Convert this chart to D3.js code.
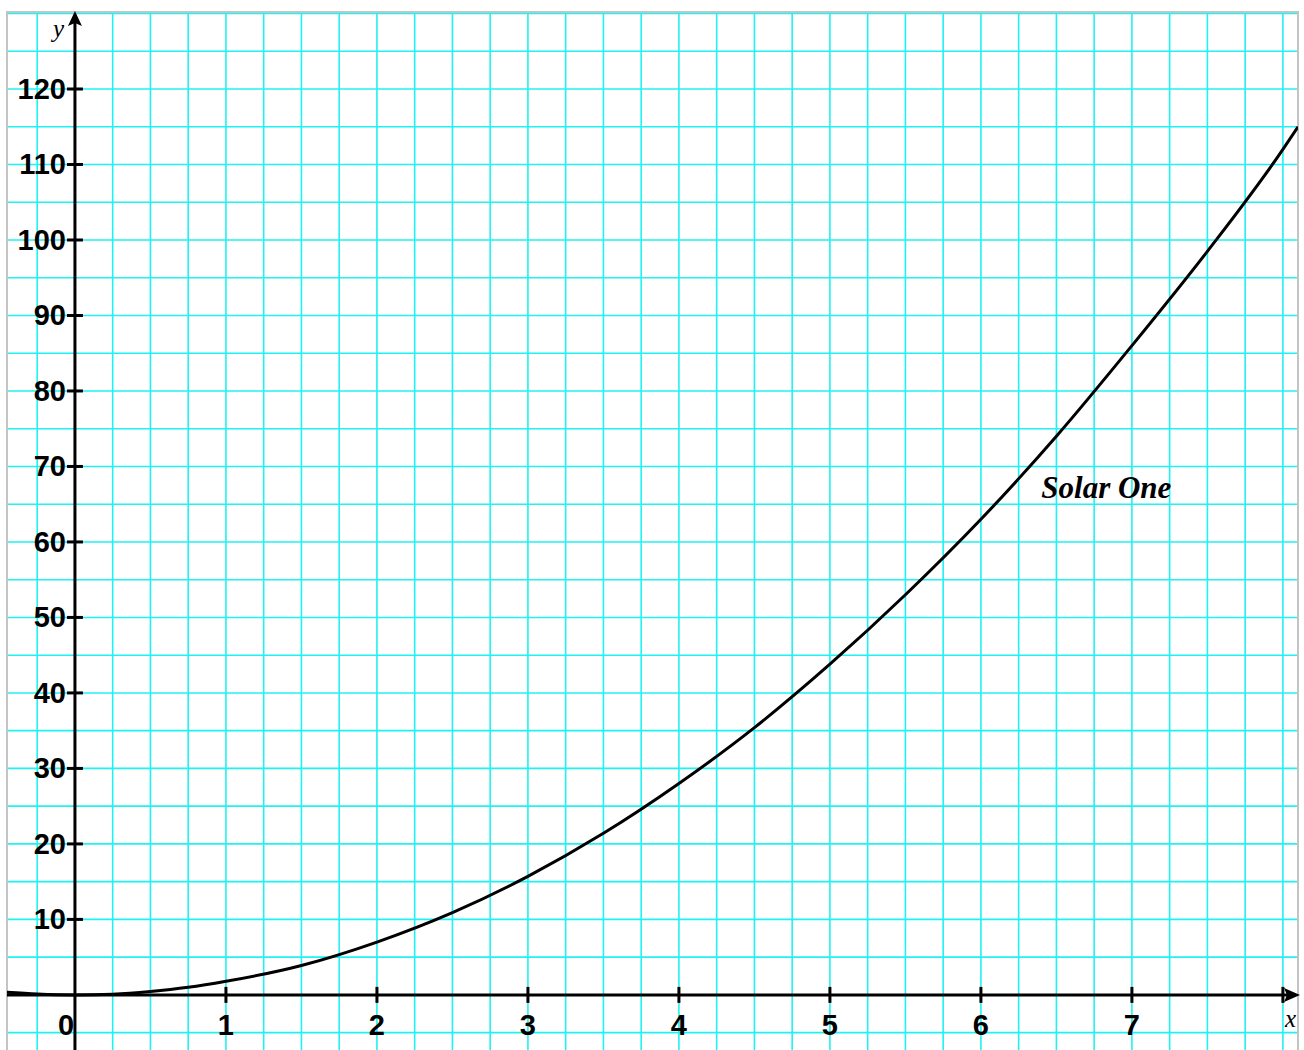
<!DOCTYPE html>
<html>
<head>
<meta charset="utf-8">
<script src="https://cdn.jsdelivr.net/npm/d3@7"></script>
<style>
  body { margin: 0; background: #fff; }
  .grid line { stroke: #1ff2f2; stroke-width: 1.6px; }
  .tick-lbl { font-family: "Liberation Sans", Arial, sans-serif; font-size: 29px; font-weight: bold; fill: #000; }
  .ax-name { font-family: "Liberation Serif", "Times New Roman", serif; font-style: italic; font-size: 25px; }
</style>
</head>
<body>
<svg id="chart" width="1304" height="1050"></svg>
<script>
// curve
var curveX = [-0.45, -0.25, 0, 0.25, 0.5, 0.75, 1, 1.5, 2, 2.5, 3, 3.5, 4, 4.5, 5, 5.5, 6, 6.5, 7, 7.5, 8, 8.1];
var curveY = [0.35, 0.12, 0, 0.1, 0.45, 1.0, 1.8, 3.9, 7.0, 10.9, 15.7, 21.4, 28.0, 35.4, 43.8, 53.0, 63.0, 74.0, 86.0, 98.5, 112.0, 115.0];

var xTicks = [1, 2, 3, 4, 5, 6, 7, 8];
var xLabels = ["1", "2", "3", "4", "5", "6", "7", ""];
var yTicks = [10, 20, 30, 40, 50, 60, 70, 80, 90, 100, 110, 120];
var seriesName = "Solar One";

var svg = d3.select("#chart");
var box = {left: 7, right: 1298, top: 12, bottom: 1050};

var x = d3.scaleLinear().domain([-0.45, 8.1]).range([box.left, box.right]);
var y = d3.scaleLinear().domain([-7.3, 130.2]).range([box.bottom, box.top]);

// graph paper
var grid = svg.append("g").attr("class", "grid");
grid.selectAll("line.v")
    .data(d3.range(-0.25, 8.1, 0.25))
    .enter().append("line")
        .attr("x1", d => x(d)).attr("x2", d => x(d))
        .attr("y1", box.top).attr("y2", box.bottom);
grid.selectAll("line.h")
    .data(d3.range(-5, 131, 5))
    .enter().append("line")
        .attr("x1", box.left).attr("x2", box.right)
        .attr("y1", d => y(d)).attr("y2", d => y(d));

svg.append("rect")
    .attr("x", box.left).attr("y", box.top)
    .attr("width", box.right - box.left).attr("height", box.bottom - box.top + 5)
    .attr("fill", "none").attr("stroke", "#c4c4c4").attr("stroke-width", 2);

// axes
var x0 = x(0), y0 = y(0);
svg.append("line").attr("x1", box.left).attr("x2", box.right - 4)
    .attr("y1", y0).attr("y2", y0).attr("stroke", "#000").attr("stroke-width", 3);
svg.append("line").attr("x1", x0).attr("x2", x0)
    .attr("y1", box.bottom).attr("y2", box.top + 6).attr("stroke", "#000").attr("stroke-width", 3);

// arrow heads
var r = box.right, t = box.top;
svg.append("path")
    .attr("d", "M" + (r + 2) + "," + y0 + " L" + (r - 14) + "," + (y0 - 7) + " L" + (r - 11) + "," + y0 + " L" + (r - 14) + "," + (y0 + 7) + "Z")
    .attr("fill", "#000");
svg.append("path")
    .attr("d", "M" + x0 + "," + (t - 1) + " L" + (x0 - 7) + "," + (t + 14) + " L" + x0 + "," + (t + 11) + " L" + (x0 + 7) + "," + (t + 14) + "Z")
    .attr("fill", "#000");

// ticks
svg.selectAll("line.xt").data(xTicks).enter().append("line")
    .attr("x1", d => x(d)).attr("x2", d => x(d))
    .attr("y1", y0 - 8).attr("y2", y0 + 8)
    .attr("stroke", "#000").attr("stroke-width", 3);
svg.selectAll("line.yt").data(yTicks).enter().append("line")
    .attr("x1", x0 - 8).attr("x2", x0 + 8)
    .attr("y1", d => y(d)).attr("y2", d => y(d))
    .attr("stroke", "#000").attr("stroke-width", 3);

svg.selectAll("text.xl").data(xTicks).enter().append("text")
    .attr("class", "tick-lbl")
    .attr("x", d => x(d)).attr("y", y0 + 40)
    .attr("text-anchor", "middle")
    .text((d, i) => xLabels[i]);
svg.append("text").attr("class", "tick-lbl")
    .attr("x", x0 - 9).attr("y", y0 + 40)
    .attr("text-anchor", "middle").text("0");

svg.selectAll("text.yl").data(yTicks).enter().append("text")
    .attr("class", "tick-lbl")
    .attr("x", x0 - 9).attr("y", d => y(d) + 10)
    .attr("text-anchor", "end")
    .text(d => d);

// axis names
svg.append("text").attr("class", "ax-name").attr("x", x0 - 22).attr("y", 37).text("y");
svg.append("text").attr("class", "ax-name").attr("x", r - 13).attr("y", y0 + 32).text("x");

// curve
svg.append("clipPath").attr("id", "plotclip")
    .append("rect").attr("x", box.left).attr("y", box.top)
    .attr("width", box.right - box.left).attr("height", box.bottom - box.top);

svg.append("path")
    .datum(curveX.map((v, i) => [v, curveY[i]]))
    .attr("clip-path", "url(#plotclip)")
    .attr("fill", "none").attr("stroke", "#000").attr("stroke-width", 3)
    .attr("d", d3.line().curve(d3.curveMonotoneX)
        .x(d => x(d[0]))
        .y(d => y(d[1])));

svg.append("text")
    .attr("x", x(6.4)).attr("y", y(65.8))
    .attr("font-family", "Liberation Serif, Times New Roman, serif")
    .attr("font-style", "italic").attr("font-weight", "bold")
    .attr("font-size", 31).text(seriesName);
</script>
</body>
</html>
